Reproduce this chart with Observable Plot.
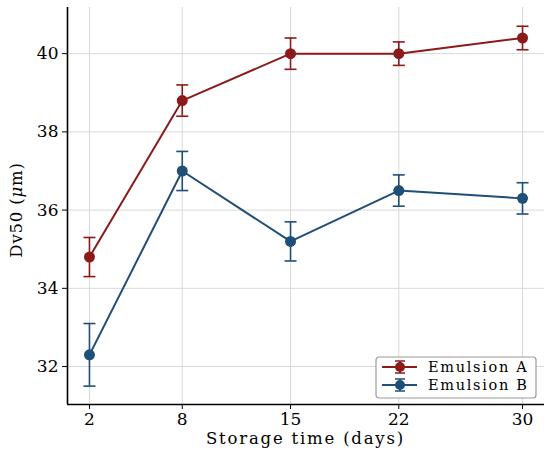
<!DOCTYPE html>
<html><head><meta charset="utf-8">
<script src="https://cdn.jsdelivr.net/npm/d3@7"></script>
<script src="https://cdn.jsdelivr.net/npm/@observablehq/plot@0.6"></script>
<style>body{margin:0;background:#fff}#chart{width:550px;height:454px}</style>
</head><body><div id="chart"></div>
<script>
const days = [2, 8, 15, 22, 30];
const meanA = [34.8, 38.8, 40.0, 40.0, 40.4];
const errA = [0.5, 0.4, 0.4, 0.3, 0.3];
const meanB = [32.3, 37.0, 35.2, 36.5, 36.3];
const errB = [0.8, 0.5, 0.5, 0.4, 0.4];
const seriesNames = ["Emulsion A", "Emulsion B"];
const colors = ["#8b1a1a", "#1f4e79"];
const xTicks = [2, 8, 15, 22, 30];
const yTicks = [32, 34, 36, 38, 40];
const xLabel = "Storage time (days)";

const rows = [];
[[meanA, errA], [meanB, errB]].forEach(([m, e], s) => {
  days.forEach((d, i) => rows.push({series: seriesNames[s], day: d, mean: m[i], lo: m[i] - e[i], hi: m[i] + e[i]}));
});

const capSymbol = {draw(ctx, size) { const w = 6; ctx.moveTo(-w, 0); ctx.lineTo(w, 0); }};
const xDom = [0.58, 31.42], yDom = [31.03, 41.18];
const font = "DejaVu Serif";

const chart = Plot.plot({
  width: 550, height: 454,
  marginLeft: 67, marginRight: 6, marginTop: 7, marginBottom: 50,
  style: {fontFamily: font, fontSize: "17px", background: "#fff"},
  x: {domain: xDom, ticks: xTicks, label: null},
  y: {domain: yDom, ticks: yTicks, label: null},
  color: {domain: seriesNames, range: colors},
  marks: [
    Plot.gridX(xTicks, {stroke: "#d9d9d9", strokeOpacity: 1, strokeWidth: 1}),
    Plot.gridY(yTicks, {stroke: "#d9d9d9", strokeOpacity: 1, strokeWidth: 1}),
    Plot.axisX(xTicks, {tickSize: 5, tickPadding: 3, fontSize: 17, label: null, stroke: "#000"}),
    Plot.axisY(yTicks, {tickSize: 5, tickPadding: 4, fontSize: 17, label: null, stroke: "#000"}),
    Plot.ruleX([xDom[0]], {stroke: "#000", strokeWidth: 1.6}),
    Plot.ruleY([yDom[0]], {stroke: "#000", strokeWidth: 1.6}),
    Plot.line(rows, {x: "day", y: "mean", z: "series", stroke: "series", strokeWidth: 2}),
    Plot.ruleX(rows, {x: "day", y1: "lo", y2: "hi", stroke: "series", strokeWidth: 1.6}),
    Plot.dot(rows, {x: "day", y: "lo", symbol: capSymbol, stroke: "series", strokeWidth: 1.6, fill: "none", r: 5}),
    Plot.dot(rows, {x: "day", y: "hi", symbol: capSymbol, stroke: "series", strokeWidth: 1.6, fill: "none", r: 5}),
    Plot.dot(rows, {x: "day", y: "mean", fill: "series", r: 5.5})
  ]
});
document.getElementById("chart").appendChild(chart);

const svg = d3.select(chart);
// axis labels
svg.append("text").attr("x", 305.5).attr("y", 444).attr("text-anchor", "middle")
  .attr("font-family", font).attr("font-size", 16.5).attr("letter-spacing", 1.8).text(xLabel);
const yl = svg.append("text").attr("transform", "translate(22,210) rotate(-90)").attr("text-anchor", "middle")
  .attr("font-family", font).attr("font-size", 16.5).attr("letter-spacing", 0.8);
yl.append("tspan").text("Dv50 (");
yl.append("tspan").attr("font-style", "italic").text("μ");
yl.append("tspan").text("m)");

// legend
const lg = svg.append("g").attr("transform", "translate(376,357)");
lg.append("rect").attr("width", 160).attr("height", 41).attr("rx", 3)
  .attr("fill", "#fff").attr("stroke", "#999").attr("stroke-width", 1.2);
seriesNames.forEach((name, i) => {
  const cy = 10 + i * 18;
  const g = lg.append("g").attr("stroke", colors[i]);
  g.append("line").attr("x1", 6).attr("x2", 41).attr("y1", cy).attr("y2", cy).attr("stroke-width", 2);
  g.append("line").attr("x1", 24).attr("x2", 24).attr("y1", cy - 6).attr("y2", cy + 6).attr("stroke-width", 1.5);
  g.append("line").attr("x1", 19).attr("x2", 29).attr("y1", cy - 6).attr("y2", cy - 6).attr("stroke-width", 1.5);
  g.append("line").attr("x1", 19).attr("x2", 29).attr("y1", cy + 6).attr("y2", cy + 6).attr("stroke-width", 1.5);
  g.append("circle").attr("cx", 24).attr("cy", cy).attr("r", 5).attr("fill", colors[i]).attr("stroke", "none");
  lg.append("text").attr("x", 52).attr("y", cy + 5).attr("text-anchor", "start").attr("font-family", font).attr("font-size", 14.5)
    .attr("letter-spacing", 1.7).attr("fill", "#000").text(name);
});
</script>
</body></html>
